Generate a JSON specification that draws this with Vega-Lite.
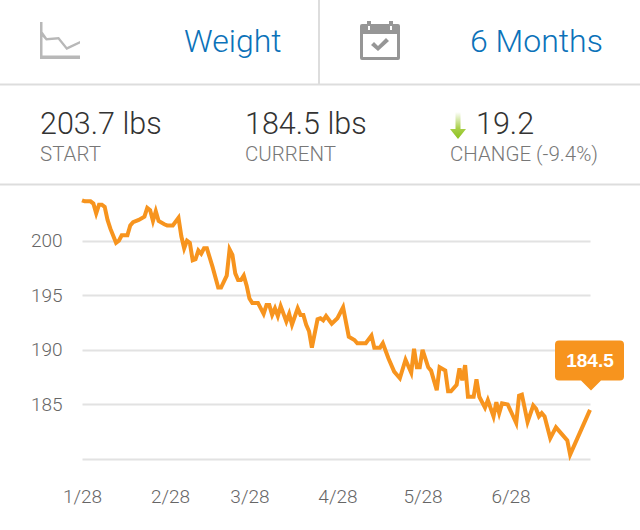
{"$schema":"https://vega.github.io/schema/vega-lite/v6.json","width":508,"height":262,"autosize":"none","padding":{"left":82,"top":197,"right":50,"bottom":71},"background":"#ffffff","config":{"view":{"stroke":null},"font":"Roboto"},"datasets":{"weights":[{"date":"2013-01-28","weight":203.7},{"date":"2013-01-29","weight":203.6},{"date":"2013-01-31","weight":203.6},{"date":"2013-02-01","weight":203.4},{"date":"2013-02-02","weight":202.5},{"date":"2013-02-03","weight":203.3},{"date":"2013-02-04","weight":203.3},{"date":"2013-02-05","weight":203.1},{"date":"2013-02-06","weight":201.9},{"date":"2013-02-07","weight":201.1},{"date":"2013-02-09","weight":199.8},{"date":"2013-02-10","weight":200.0},{"date":"2013-02-11","weight":200.5},{"date":"2013-02-13","weight":200.5},{"date":"2013-02-14","weight":201.4},{"date":"2013-02-15","weight":201.7},{"date":"2013-02-17","weight":201.9},{"date":"2013-02-19","weight":202.2},{"date":"2013-02-20","weight":203.0},{"date":"2013-02-21","weight":202.8},{"date":"2013-02-22","weight":201.8},{"date":"2013-02-23","weight":202.7},{"date":"2013-02-24","weight":201.8},{"date":"2013-02-26","weight":201.5},{"date":"2013-02-27","weight":201.4},{"date":"2013-03-01","weight":201.4},{"date":"2013-03-03","weight":202.1},{"date":"2013-03-04","weight":200.4},{"date":"2013-03-05","weight":199.3},{"date":"2013-03-06","weight":200.0},{"date":"2013-03-07","weight":199.8},{"date":"2013-03-08","weight":198.2},{"date":"2013-03-09","weight":198.3},{"date":"2013-03-10","weight":199.1},{"date":"2013-03-11","weight":198.8},{"date":"2013-03-12","weight":199.3},{"date":"2013-03-13","weight":199.3},{"date":"2013-03-15","weight":197.6},{"date":"2013-03-17","weight":195.7},{"date":"2013-03-18","weight":195.7},{"date":"2013-03-20","weight":196.8},{"date":"2013-03-21","weight":199.2},{"date":"2013-03-22","weight":198.7},{"date":"2013-03-23","weight":197.0},{"date":"2013-03-24","weight":196.4},{"date":"2013-03-25","weight":196.4},{"date":"2013-03-26","weight":196.8},{"date":"2013-03-27","weight":195.9},{"date":"2013-03-28","weight":194.7},{"date":"2013-03-29","weight":194.3},{"date":"2013-03-31","weight":194.3},{"date":"2013-04-02","weight":193.3},{"date":"2013-04-03","weight":194.1},{"date":"2013-04-04","weight":194.1},{"date":"2013-04-05","weight":193.2},{"date":"2013-04-06","weight":193.8},{"date":"2013-04-07","weight":193.1},{"date":"2013-04-08","weight":194.0},{"date":"2013-04-10","weight":192.6},{"date":"2013-04-11","weight":193.3},{"date":"2013-04-12","weight":192.3},{"date":"2013-04-14","weight":193.8},{"date":"2013-04-15","weight":193.2},{"date":"2013-04-16","weight":193.2},{"date":"2013-04-17","weight":192.3},{"date":"2013-04-18","weight":191.7},{"date":"2013-04-19","weight":190.2},{"date":"2013-04-21","weight":192.8},{"date":"2013-04-22","weight":192.9},{"date":"2013-04-23","weight":192.7},{"date":"2013-04-24","weight":193.1},{"date":"2013-04-26","weight":192.4},{"date":"2013-04-28","weight":192.9},{"date":"2013-04-30","weight":193.9},{"date":"2013-05-02","weight":191.2},{"date":"2013-05-04","weight":190.9},{"date":"2013-05-05","weight":190.6},{"date":"2013-05-08","weight":190.6},{"date":"2013-05-10","weight":191.3},{"date":"2013-05-11","weight":190.2},{"date":"2013-05-13","weight":190.2},{"date":"2013-05-14","weight":190.6},{"date":"2013-05-16","weight":189.2},{"date":"2013-05-18","weight":188.0},{"date":"2013-05-20","weight":187.4},{"date":"2013-05-22","weight":189.1},{"date":"2013-05-24","weight":187.9},{"date":"2013-05-25","weight":190.1},{"date":"2013-05-26","weight":188.4},{"date":"2013-05-27","weight":188.4},{"date":"2013-05-28","weight":190.0},{"date":"2013-05-30","weight":188.4},{"date":"2013-05-31","weight":188.1},{"date":"2013-06-02","weight":186.3},{"date":"2013-06-03","weight":188.4},{"date":"2013-06-05","weight":188.1},{"date":"2013-06-06","weight":186.2},{"date":"2013-06-07","weight":186.2},{"date":"2013-06-09","weight":186.8},{"date":"2013-06-10","weight":188.3},{"date":"2013-06-11","weight":187.2},{"date":"2013-06-12","weight":188.6},{"date":"2013-06-13","weight":185.7},{"date":"2013-06-15","weight":185.7},{"date":"2013-06-16","weight":187.3},{"date":"2013-06-17","weight":185.7},{"date":"2013-06-19","weight":184.7},{"date":"2013-06-20","weight":185.4},{"date":"2013-06-22","weight":183.9},{"date":"2013-06-23","weight":185.2},{"date":"2013-06-24","weight":184.2},{"date":"2013-06-25","weight":185.1},{"date":"2013-06-27","weight":185.0},{"date":"2013-06-30","weight":183.3},{"date":"2013-07-01","weight":185.8},{"date":"2013-07-02","weight":185.9},{"date":"2013-07-04","weight":183.4},{"date":"2013-07-06","weight":184.9},{"date":"2013-07-07","weight":184.6},{"date":"2013-07-08","weight":183.9},{"date":"2013-07-09","weight":184.2},{"date":"2013-07-10","weight":183.9},{"date":"2013-07-12","weight":181.9},{"date":"2013-07-14","weight":182.9},{"date":"2013-07-16","weight":182.3},{"date":"2013-07-18","weight":181.7},{"date":"2013-07-19","weight":180.4},{"date":"2013-07-26","weight":184.5}],"nav":[{"nav":"metric","label":"Weight"},{"nav":"period","label":"6 Months"}],"stats":[{"stat":"start","value":"203.7 lbs","caption":"START"},{"stat":"current","value":"184.5 lbs","caption":"CURRENT"},{"stat":"change","value":"19.2","caption":"CHANGE (-9.4%)"}],"latest":[{"date":"2013-07-26","weight":184.5}]},"resolve":{"scale":{"x":"independent","y":"independent","color":"independent","shape":"independent"},"axis":{"x":"independent","y":"independent"}},"layer":[{"data":{"name":"weights"},"mark":{"type":"line","color":"#f7941e","strokeWidth":4,"strokeJoin":"miter","strokeCap":"butt"},"encoding":{"x":{"field":"date","type":"temporal","scale":{"type":"utc","domain":["2013-01-28","2013-07-26"]},"title":null,"axis":{"labelExpr":"utcFormat(datum.value,'%-m/%-d')","values":["2013-01-28","2013-02-28","2013-03-28","2013-04-28","2013-05-28","2013-06-28"],"grid":false,"domain":false,"ticks":false,"labelPadding":28,"labelFont":"Roboto","labelFontWeight":300,"labelFontSize":19,"labelColor":"#666666","labelFlush":false,"labelOverlap":false}},"y":{"field":"weight","type":"quantitative","scale":{"domain":[180,204],"nice":false,"zero":false},"title":null,"axis":{"values":[180,185,190,195,200],"labelExpr":"datum.value==180?'':datum.label","grid":true,"gridColor":"#e2e2e2","gridWidth":2,"domain":false,"ticks":false,"labelPadding":20,"labelFont":"Roboto","labelFontWeight":300,"labelFontSize":19,"labelColor":"#666666"}}}},{"data":{"name":"latest"},"mark":{"type":"point","filled":true,"opacity":1,"size":4,"color":"#f7941e","shape":"M-31,-69.5 H30 Q34,-69.5 34,-65.5 V-33.5 Q34,-29.5 30,-29.5 H11 L1,-19.5 L-9,-29.5 H-31 Q-35,-29.5 -35,-33.5 V-65.5 Q-35,-69.5 -31,-69.5 Z"},"encoding":{"x":{"field":"date","type":"temporal","scale":{"type":"utc","domain":["2013-01-28","2013-07-26"]},"axis":null},"y":{"field":"weight","type":"quantitative","scale":{"domain":[180,204],"nice":false,"zero":false},"axis":null}}},{"data":{"name":"latest"},"mark":{"type":"text","color":"#ffffff","fontSize":19,"fontWeight":"bold","font":"Liberation Sans","dy":-49,"baseline":"middle"},"encoding":{"x":{"field":"date","type":"temporal","scale":{"type":"utc","domain":["2013-01-28","2013-07-26"]},"axis":null},"y":{"field":"weight","type":"quantitative","scale":{"domain":[180,204],"nice":false,"zero":false},"axis":null},"text":{"field":"weight","type":"quantitative","format":".1f"}}},{"data":{"values":[{"sep":"nav","from":0,"to":1},{"sep":"stats","from":0,"to":1}]},"mark":{"type":"rule","color":"#dddddd","strokeWidth":2},"encoding":{"x":{"field":"from","type":"quantitative","scale":{"domain":[0,1],"range":[-82,558]},"axis":null},"x2":{"field":"to"},"y":{"field":"sep","type":"nominal","scale":{"type":"point","domain":["nav","stats"],"range":[-112.5,-12.5],"padding":0},"axis":null}}},{"data":{"values":[{"sep":"column","from":0,"to":1}]},"mark":{"type":"rule","color":"#dddddd","strokeWidth":2},"encoding":{"y":{"field":"from","type":"quantitative","scale":{"domain":[0,1],"range":[-197,-113]},"axis":null},"y2":{"field":"to"},"x":{"field":"sep","type":"nominal","scale":{"type":"point","domain":["column"],"range":[237,237],"padding":0},"axis":null}}},{"data":{"name":"nav"},"mark":{"type":"text","align":"left","baseline":"alphabetic","fontSize":32,"fontWeight":300,"font":"Roboto","color":"#0b72b9"},"encoding":{"x":{"field":"nav","type":"nominal","scale":{"domain":["metric","period"],"range":[102,388],"padding":0},"axis":null},"y":{"value":-145},"text":{"field":"label"}}},{"data":{"name":"nav"},"mark":{"type":"point","filled":true,"opacity":1,"size":4},"encoding":{"x":{"field":"nav","type":"nominal","scale":{"domain":["metric","period"],"range":[-22,298],"padding":0},"axis":null},"y":{"value":-157},"shape":{"field":"nav","type":"nominal","legend":null,"scale":{"domain":["metric","period"],"range":["M-20,-18 H-17.5 V15.5 H20 V19 H-20 Z M-18,-9 L-13,-2 L-1,-3 L7,7 L20,1 L20,3.5 L6.5,10 L-2,-0.5 L-14,0.5 L-18,-4 Z","M-18,-16 H-13 V-19 H-9 V-16 H9 V-19 H13 V-16 H18 Q20,-16 20,-14 V18 Q20,20 18,20 H-18 Q-20,20 -20,18 V-14 Q-20,-16 -18,-16 Z M-17,-6 V17 H17 V-6 Z M-12,-14 V-10 H-10 V-14 Z M10,-14 V-10 H12 V-14 Z M-9,5 L-6,2 L-2,6 L6,-2 L9,1 L-2,11 Z"]}},"color":{"field":"nav","type":"nominal","legend":null,"scale":{"domain":["metric","period"],"range":["#b8b8b8","#969696"]}}}},{"data":{"name":"stats"},"transform":[{"filter":"datum.stat!='change'"}],"mark":{"type":"text","align":"left","baseline":"alphabetic","fontSize":30.5,"fontWeight":300,"font":"Roboto","color":"#333333"},"encoding":{"x":{"field":"stat","type":"nominal","scale":{"domain":["start","current","change"],"range":[-42,368],"padding":0},"axis":null},"y":{"value":-63},"text":{"field":"value"}}},{"data":{"name":"stats"},"transform":[{"filter":"datum.stat=='change'"}],"mark":{"type":"text","align":"left","baseline":"alphabetic","fontSize":30.5,"fontWeight":300,"font":"Roboto","color":"#333333","dx":26},"encoding":{"x":{"field":"stat","type":"nominal","scale":{"domain":["start","current","change"],"range":[-42,368],"padding":0},"axis":null},"y":{"value":-63},"text":{"field":"value"}}},{"data":{"name":"stats"},"mark":{"type":"text","align":"left","baseline":"alphabetic","fontSize":20.5,"fontWeight":300,"font":"Roboto","color":"#777777"},"encoding":{"x":{"field":"stat","type":"nominal","scale":{"domain":["start","current","change"],"range":[-42,368],"padding":0},"axis":null},"y":{"value":-36},"text":{"field":"caption"}}},{"data":{"name":"stats"},"transform":[{"filter":"datum.stat=='change'"}],"mark":{"type":"point","filled":true,"opacity":1,"size":4,"shape":"M5.5,-22 H10.5 V-5 H16 L8,5 L0,-5 H5.5 Z","fill":{"gradient":"linear","x1":0,"y1":0,"x2":0,"y2":1,"stops":[{"offset":0,"color":"#ffffff"},{"offset":0.6,"color":"#a9d04a"},{"offset":1,"color":"#8dc21f"}]}},"encoding":{"x":{"field":"stat","type":"nominal","scale":{"domain":["start","current","change"],"range":[-42,368],"padding":0},"axis":null},"y":{"value":-63}}}]}
